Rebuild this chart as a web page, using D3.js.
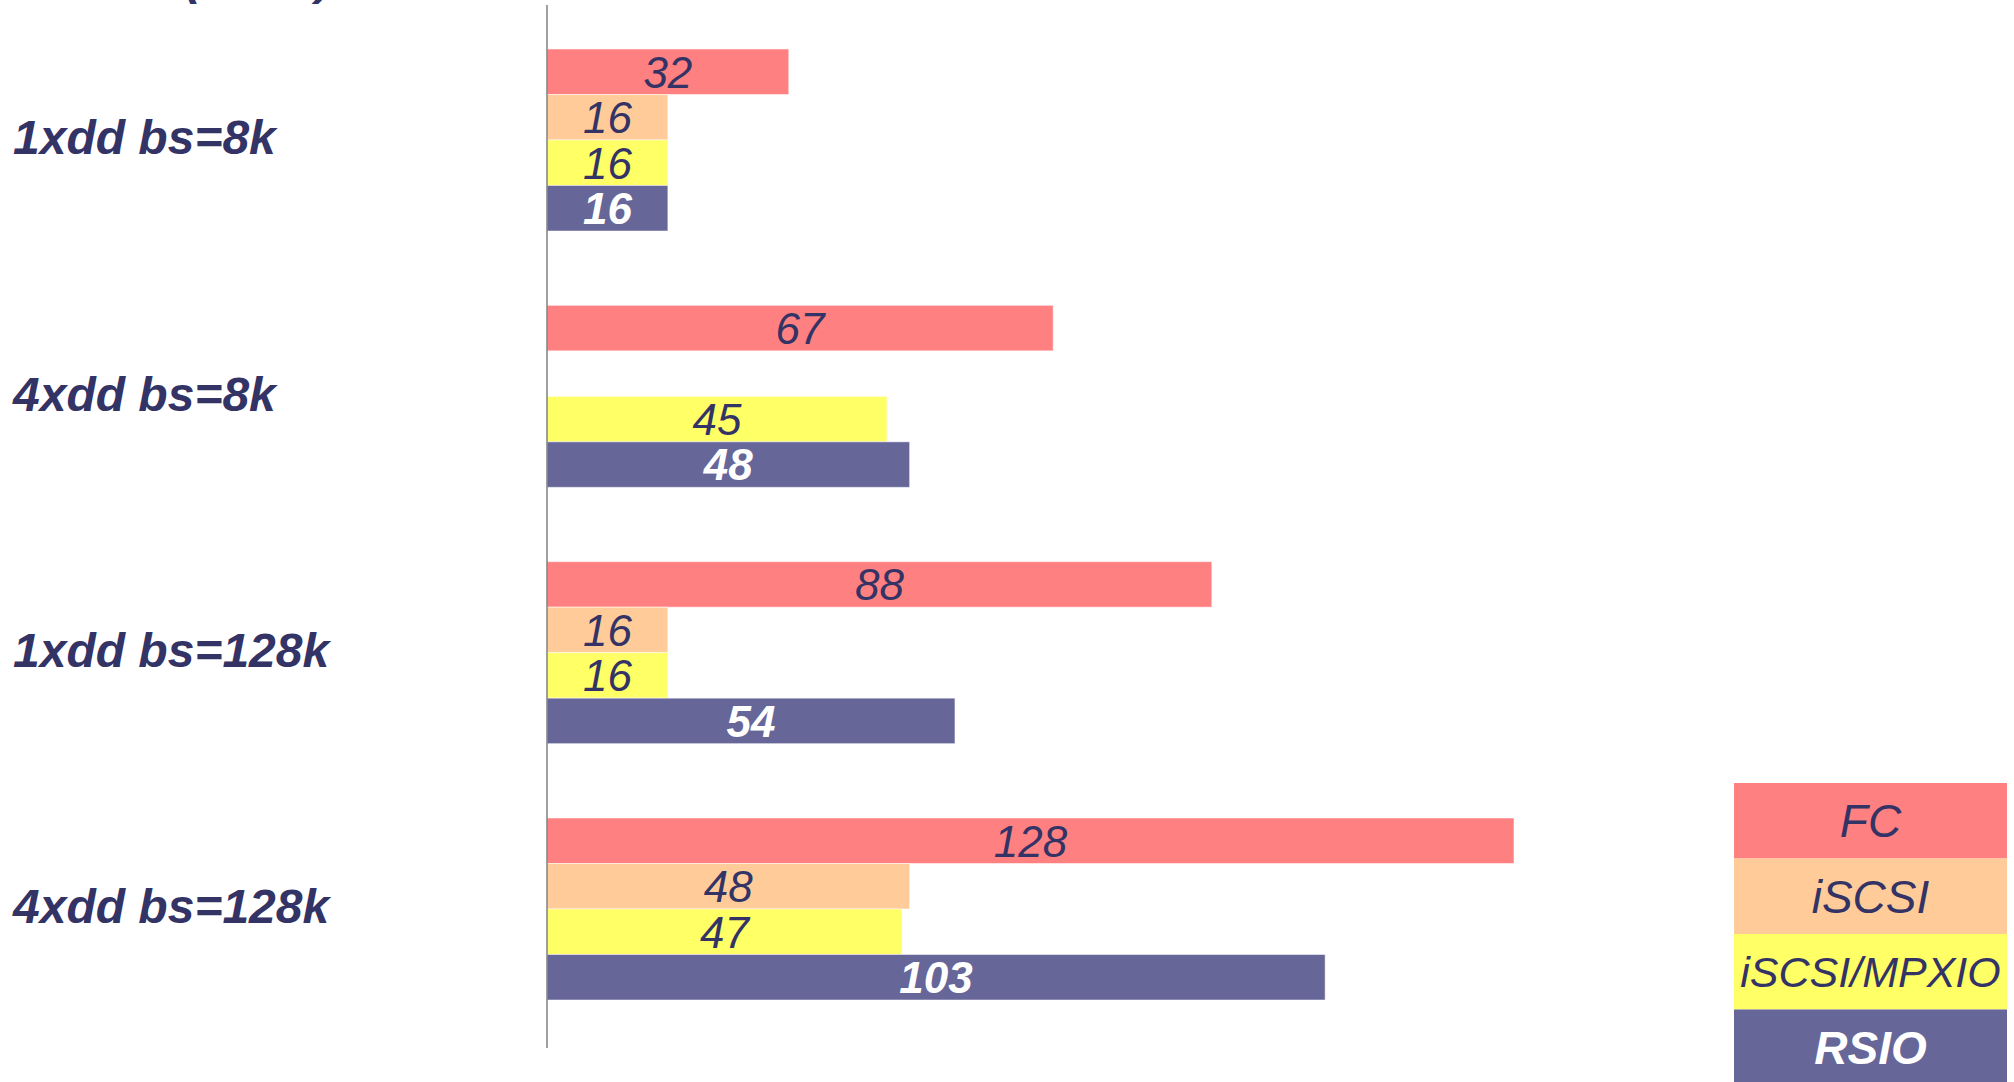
<!DOCTYPE html>
<html>
<head>
<meta charset="utf-8">
<script src="https://cdn.jsdelivr.net/npm/d3@7"></script>
<style>
  html, body { margin: 0; padding: 0; background: #ffffff; overflow: hidden; }
  svg { display: block; font-family: "Liberation Sans", Arial, sans-serif; }
</style>
</head>
<body>
<svg id="chart" width="2014" height="1082"></svg>
<script>
// ---- data ----
const categories = ["1xdd bs=8k", "4xdd bs=8k", "1xdd bs=128k", "4xdd bs=128k"];
const series = ["FC", "iSCSI", "iSCSI/MPXIO", "RSIO"];
const fcValues     = [32, 67, 88, 128];
const iscsiValues  = [16, null, 16, 48];
const mpxioValues  = [16, 45, 16, 47];
const rsioValues   = [16, 48, 54, 103];
const titleText = "(MB/s)";

const seriesValues = [fcValues, iscsiValues, mpxioValues, rsioValues];
const colors = ["#ff8080", "#ffcc99", "#ffff66", "#666699"];
const textColors = ["#333366", "#333366", "#333366", "#ffffff"];
const textWeights = ["normal", "normal", "normal", "bold"];

const svg = d3.select("#chart");

// scales
const x = d3.scaleLinear().domain([0, 128]).range([547, 1514]);
const y = d3.scaleBand().domain(categories).range([49, 1000]).paddingInner(0.29).paddingOuter(0);
const ySub = d3.scaleBand().domain(series).range([0, y.bandwidth()]).padding(0);
const colorScale = d3.scaleOrdinal().domain(series).range(colors);
const textColorScale = d3.scaleOrdinal().domain(series).range(textColors);
const weightScale = d3.scaleOrdinal().domain(series).range(textWeights);

// title (cut off at the top edge, as in the reference)
svg.append("text")
  .attr("x", 185).attr("y", -6)
  .attr("font-size", 48).attr("font-weight", "bold").attr("font-style", "italic")
  .attr("fill", "#333366")
  .text(titleText);

// flatten data
const records = [];
categories.forEach((c, i) => {
  series.forEach((s, j) => {
    const v = seriesValues[j][i];
    if (v !== null && v !== undefined) records.push({ cat: c, ser: s, value: v });
  });
});

const groups = svg.append("g").selectAll("g.bar")
  .data(records).join("g").attr("class", "bar");

groups.append("rect")
  .attr("x", x(0))
  .attr("y", d => y(d.cat) + ySub(d.ser))
  .attr("width", d => x(d.value) - x(0))
  .attr("height", ySub.bandwidth())
  .attr("fill", d => colorScale(d.ser))
  .attr("stroke", "#ffffff")
  .attr("stroke-opacity", 0.5)
  .attr("stroke-width", 1);

groups.append("text")
  .attr("x", d => (x(0) + x(d.value)) / 2)
  .attr("y", d => y(d.cat) + ySub(d.ser) + ySub.bandwidth() / 2)
  .attr("dy", "0.36em")
  .attr("text-anchor", "middle")
  .attr("font-size", 44)
  .attr("font-style", "italic")
  .attr("font-weight", d => weightScale(d.ser))
  .attr("fill", d => textColorScale(d.ser))
  .text(d => d.value);

// category labels
svg.append("g").selectAll("text")
  .data(categories).join("text")
  .attr("x", 13)
  .attr("y", d => y(d) + y.bandwidth() / 2)
  .attr("dy", "0.3em")
  .attr("font-size", 48)
  .attr("font-weight", "bold")
  .attr("font-style", "italic")
  .attr("fill", "#333366")
  .text(d => d);

// axis line
svg.append("line")
  .attr("x1", x(0)).attr("x2", x(0))
  .attr("y1", 5).attr("y2", 1048)
  .attr("stroke", "#7f7f7f").attr("stroke-width", 1.5);

// legend
const ly = d3.scaleBand().domain(series).range([783, 1085]).padding(0);
const legend = svg.append("g").selectAll("g")
  .data(series).join("g");
legend.append("rect")
  .attr("x", 1734).attr("width", 273)
  .attr("y", d => ly(d)).attr("height", ly.bandwidth())
  .attr("fill", d => colorScale(d));
legend.append("text")
  .attr("x", 1734 + 273 / 2)
  .attr("y", d => ly(d) + ly.bandwidth() / 2)
  .attr("dy", "0.36em")
  .attr("text-anchor", "middle")
  .attr("font-size", d => d === "iSCSI/MPXIO" ? 43 : 46)
  .attr("font-style", "italic")
  .attr("font-weight", d => weightScale(d))
  .attr("fill", d => textColorScale(d))
  .text(d => d);
</script>
</body>
</html>
